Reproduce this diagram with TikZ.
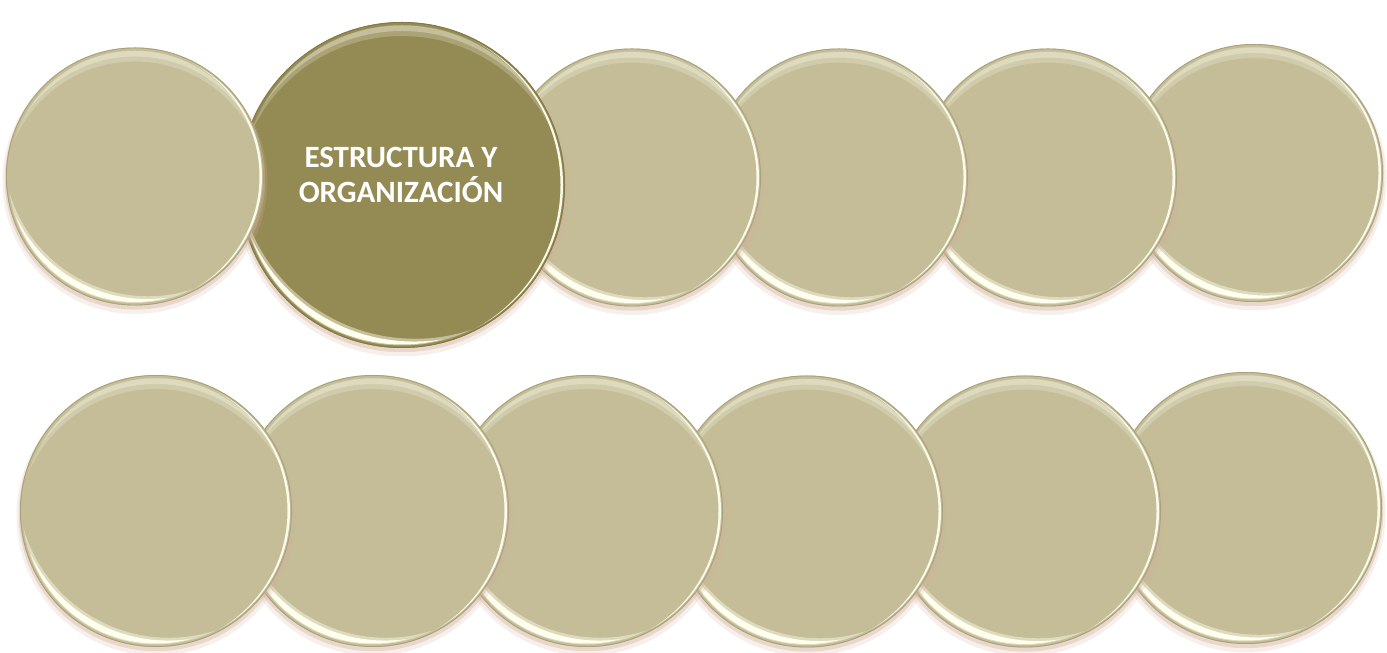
\documentclass[tikz,border=0pt]{standalone}
\usepackage{fontspec}
\setmainfont{Carlito}
\definecolor{tanfill}{HTML}{C4BD97}
\definecolor{tanedge}{HTML}{A9A27C}
\definecolor{olivefill}{HTML}{948A54}
\definecolor{oliveedge}{HTML}{837945}
\definecolor{shadowc}{HTML}{D4B29E}
\definecolor{shine}{HTML}{FFFFF0}
\newcommand\mycrescent[5]{%
  \begin{scope}
    \clip (0,0) circle (#1);
    \fill[#5, even odd rule] (-400,-400) rectangle (400,400) (#2:#3) circle (#4);
  \end{scope}}
% name, x, y, r, fill, edge
\newcommand\bevelcirc[6]{%
  \begin{scope}[shift={(#2,#3)}]
    \fill[shadowc, opacity=0.2] (0,-5) circle (#4+3.5);
    \fill[shadowc, opacity=0.4] (0,-3) circle (#4+1.2);
    \node[circle, inner sep=0pt, minimum size={2*#4 pt}, fill=#5] (#1) at (0,0) {};
    \mycrescent{#4-3}{270}{17}{#4+3}{shine, opacity=0.22}
    \mycrescent{#4-3.5}{270}{12}{#4+3}{shine, opacity=0.3}
    \mycrescent{#4-2.5}{62}{28}{#4-2.5+18}{shine, opacity=0.45}
    \mycrescent{#4-3.5}{62}{26}{#4-3.5+20}{shine, opacity=1}
    \mycrescent{#4-2}{180}{5}{#4-2+2.5}{shine, opacity=0.95}
    \draw[#6, line width=0.9pt] (0,0) circle (#4-0.45);
  \end{scope}}
\begin{document}
\begin{tikzpicture}[x=1pt,y=1pt]
  \useasboundingbox (0,0) rectangle (1387,653);
  % top row (drawn right to left)
  \bevelcirc{t6}{1254}{480}{129}{tanfill}{tanedge}
  \bevelcirc{t5}{1048}{475.5}{129}{tanfill}{tanedge}
  \bevelcirc{t4}{839}{475.5}{129}{tanfill}{tanedge}
  \bevelcirc{t3}{632}{475.5}{129}{tanfill}{tanedge}
  \bevelcirc{t2}{402}{468}{163}{olivefill}{oliveedge}
  \bevelcirc{t1}{135}{476.5}{129}{tanfill}{tanedge}
  \node[text=white, align=center, font=\bfseries\fontsize{31}{35}\selectfont] (lbl) at (401,478) {ESTRUCTURA Y\\ORGANIZACIÓN};
  % bottom row (drawn right to left)
  \bevelcirc{b6}{1246}{145}{136}{tanfill}{tanedge}
  \bevelcirc{b5}{1025}{141.5}{136}{tanfill}{tanedge}
  \bevelcirc{b4}{807}{141.5}{136}{tanfill}{tanedge}
  \bevelcirc{b3}{587}{142}{136}{tanfill}{tanedge}
  \bevelcirc{b2}{373}{142}{136}{tanfill}{tanedge}
  \bevelcirc{b1}{156}{142}{136}{tanfill}{tanedge}
\end{tikzpicture}
\end{document}
